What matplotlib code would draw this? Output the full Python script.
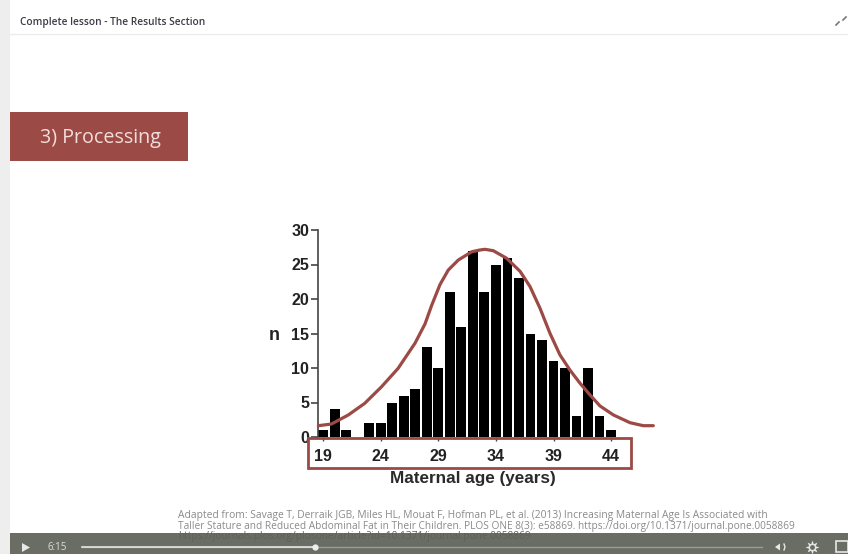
import matplotlib
matplotlib.use("Agg")
import matplotlib.pyplot as plt
from matplotlib.patches import Rectangle, Polygon

ages = list(range(19, 45))
counts = [1, 4, 1, 0, 2, 2, 5, 6, 7, 13, 10, 21, 16, 27, 21, 25, 26, 23, 15, 14, 11, 10, 3, 10, 3, 1]
curve_x = [18.57, 19.7, 21.17, 22.6, 24.07, 25.5, 26.97, 27.84, 28.42, 29.14, 29.86, 30.73, 31.9, 32.6, 33.05, 33.77,
           34.93, 36.1, 36.96, 37.83, 38.7, 39.56, 40.43, 41.3, 42.17, 43.04, 44.2, 45.65, 46.8, 47.67]
curve_y = [1.64, 1.88, 3.19, 4.88, 7.3, 9.95, 13.6, 16.4, 19.1, 22.1, 24.2, 25.65, 26.85, 27.1, 27.2, 27.0,
           25.9, 24.0, 21.8, 18.65, 15.0, 11.9, 9.7, 7.8, 6.1, 4.5, 3.2, 2.07, 1.64, 1.64]
y_ticks = [0, 5, 10, 15, 20, 25, 30]
x_ticks = [19, 24, 29, 34, 39, 44]

RED = "#9c4a45"
W, H = 848, 554
plt.rcParams["font.family"] = ["Liberation Sans", "DejaVu Sans"]
fig = plt.figure(figsize=(W / 100, H / 100), dpi=100, facecolor="white")

# Page chrome, in pixel coordinates
bg = fig.add_axes([0, 0, 1, 1], zorder=0)
bg.set_xlim(0, W); bg.set_ylim(H, 0); bg.axis("off")
bg.add_patch(Rectangle((0, 0), 10, H, color="#eeeeee", lw=0))
bg.plot([10, W], [34, 34], color="#ececec", lw=1)
bg.text(20, 22.5, "Complete lesson - The Results Section", fontsize=7.3, family="Open Sans",
        fontweight="semibold", color="#3c3c48", va="center")
bg.plot([836, 839], [25, 22], color="#777777", lw=1.2)
bg.plot([843, 846], [20, 17], color="#777777", lw=1.2)
bg.add_patch(Rectangle((10, 112), 178, 49, color=RED, lw=0))
bg.text(40, 138, "3) Processing", fontsize=14.2, family="Open Sans", color="#f2dedb", va="center")
bg.text(178, 515.5, "Adapted from: Savage T, Derraik JGB, Miles HL, Mouat F, Hofman PL, et al. (2013) Increasing Maternal Age Is Associated with",
        fontsize=7.4, family="Open Sans", color="#8a8a8a", va="center")
bg.text(178, 526.5, "Taller Stature and Reduced Abdominal Fat in Their Children. PLOS ONE 8(3): e58869. https://doi.org/10.1371/journal.pone.0058869",
        fontsize=7.3, family="Open Sans", color="#8a8a8a", va="center")

# Chart
left, right, top, bottom = 318.3, 655, 230, 437
ax = fig.add_axes([left / W, 1 - bottom / H, (right - left) / W, (bottom - top) / H], zorder=2)
ax.patch.set_alpha(0)
ax.set_xlim(19 - (323.3 - left) / 11.51, 19 + (right - 323.3) / 11.51)
ax.set_ylim(0, 30)
ax.bar(ages, counts, width=0.86, color="black", zorder=2)
ax.plot(curve_x, curve_y, color=RED, lw=2.3, zorder=3, clip_on=False, solid_joinstyle="round", solid_capstyle="round")
for s in ["top", "right", "bottom"]:
    ax.spines[s].set_visible(False)
ax.spines["left"].set_color("#444444")
ax.spines["left"].set_linewidth(1.2)
ax.set_xticks(x_ticks)
ax.set_yticks(y_ticks)
ax.tick_params(axis="y", length=5, width=1.2, color="#444444", pad=1.5, labelsize=11.5, labelcolor="#222222")
ax.tick_params(axis="x", length=3, width=1, color="#444444", pad=5.5, labelsize=11.5, labelcolor="#222222")
for t in ax.get_xticklabels() + ax.get_yticklabels():
    t.set_fontweight("bold")
bg.text(274, 336, "n", fontsize=13, fontweight="bold", color="#222222", ha="center", va="center")
bg.text(473, 478, "Maternal age (years)", fontsize=12.3, fontweight="bold", color="#2a2a2a", ha="center", va="center")

# Red box around the x tick labels
over = fig.add_axes([0, 0, 1, 1], zorder=3)
over.set_xlim(0, W); over.set_ylim(H, 0); over.axis("off")
over.add_patch(Rectangle((308, 438), 323, 30, fill=False, ec=RED, lw=2))

# Video control bar
over.add_patch(Rectangle((10, 533), W - 10, 21, color="#6a6d63", lw=0))
over.text(178, 537, "https://journals.plos.org/plosone/article?id=10.1371/journal.pone.0058869",
          fontsize=7.3, family="Open Sans", color="#5e6158", va="center")
over.add_patch(Polygon([(22, 543), (22, 552), (30, 547.5)], color="#e8e8e8", lw=0))
over.text(47, 547, "6:15", fontsize=7, family="Open Sans", color="#dddddd", va="center")
over.plot([82, 762], [547, 547], color="#999c93", lw=1)
over.plot([82, 315], [547, 547], color="#e4e4e4", lw=1.2)
over.plot([315], [547], "o", ms=3.5, color="#eeeeee")
over.add_patch(Polygon([(775, 547), (780, 543.5), (780, 550.5)], color="#e8e8e8", lw=0))
over.plot([784, 785, 784], [544, 547, 550], color="#e8e8e8", lw=1)
over.plot([812], [547], marker=(8, 1), ms=10, color="#e8e8e8", mew=0)
over.plot([812], [547], "o", ms=3.5, color="#6a6d63", mew=0)
over.add_patch(Rectangle((836, 541), 12, 11, fill=False, ec="#e8e8e8", lw=1.2))

fig.savefig("out.png", dpi=100)
